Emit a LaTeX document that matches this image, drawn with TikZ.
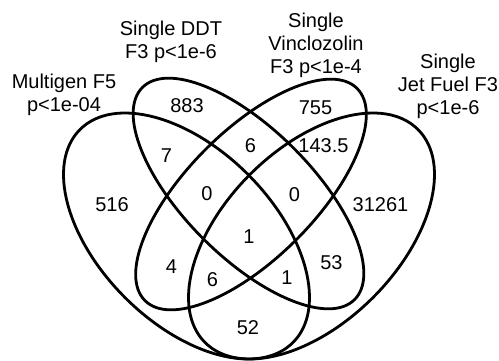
\documentclass[tikz,border=0pt]{standalone}
\usepackage{fontspec}
\setmainfont{Liberation Sans}
\begin{document}
\begin{tikzpicture}[x=1pt,y=1pt,
  venn/.style={draw=black, line width=2.8pt},
  lbl/.style={font=\fontsize{20}{23}\selectfont, align=center, anchor=base, inner sep=0pt},
  num/.style={font=\fontsize{20}{23}\selectfont, inner sep=0pt}]
\fill[white] (0,0) rectangle (499,360);
\useasboundingbox (0,0) rectangle (499,360);
% ellipse centres
\coordinate (cM) at (186.5,124);
\coordinate (cJ) at (311.5,124);
\coordinate (cD) at (248.5,166.5);
\coordinate (cV) at (251,165.5);
% ellipses
\draw[venn, rotate around={135:(cM)}] (cM) ellipse [x radius=150.6pt, y radius=87pt];
\draw[venn, rotate around={45:(cJ)}] (cJ) ellipse [x radius=150.6pt, y radius=87pt];
\draw[venn, rotate around={135:(cD)}] (cD) ellipse [x radius=150pt, y radius=64pt];
\draw[venn, rotate around={45:(cV)}] (cV) ellipse [x radius=150pt, y radius=64pt];
% set labels (anchor = baseline of last line)
\node[lbl] (lM) at (64,248.5) {Multigen F5\\p<1e-04};
\node[lbl] (lD) at (171,302) {Single DDT\\F3 p<1e-6};
\node[lbl] (lV) at (316,287) {Single\\Vinclozolin\\F3 p<1e-4};
\node[lbl] (lJ) at (448,245.5) {Single\\Jet Fuel F3\\p<1e-6};
% region counts
\node[num] (n883) at (187,254.5) {883};
\node[num] (n755) at (315.5,252.5) {755};
\node[num] (n7) at (166.5,204.5) {7};
\node[num] (n6a) at (250.5,214) {6};
\node[num] (n1435) at (323.5,214.5) {143.5};
\node[num] (n516) at (112,155.5) {516};
\node[num] (n31261) at (380.5,155.5) {31261};
\node[num] (n0a) at (207,166.5) {0};
\node[num] (n0b) at (294.5,165.5) {0};
\node[num] (n1a) at (249,123) {1};
\node[num] (n4) at (171.5,93) {4};
\node[num] (n6b) at (212.5,80.5) {6};
\node[num] (n1b) at (287,82) {1};
\node[num] (n53) at (331.5,97.5) {53};
\node[num] (n52) at (248,32.5) {52};
\end{tikzpicture}
\end{document}
